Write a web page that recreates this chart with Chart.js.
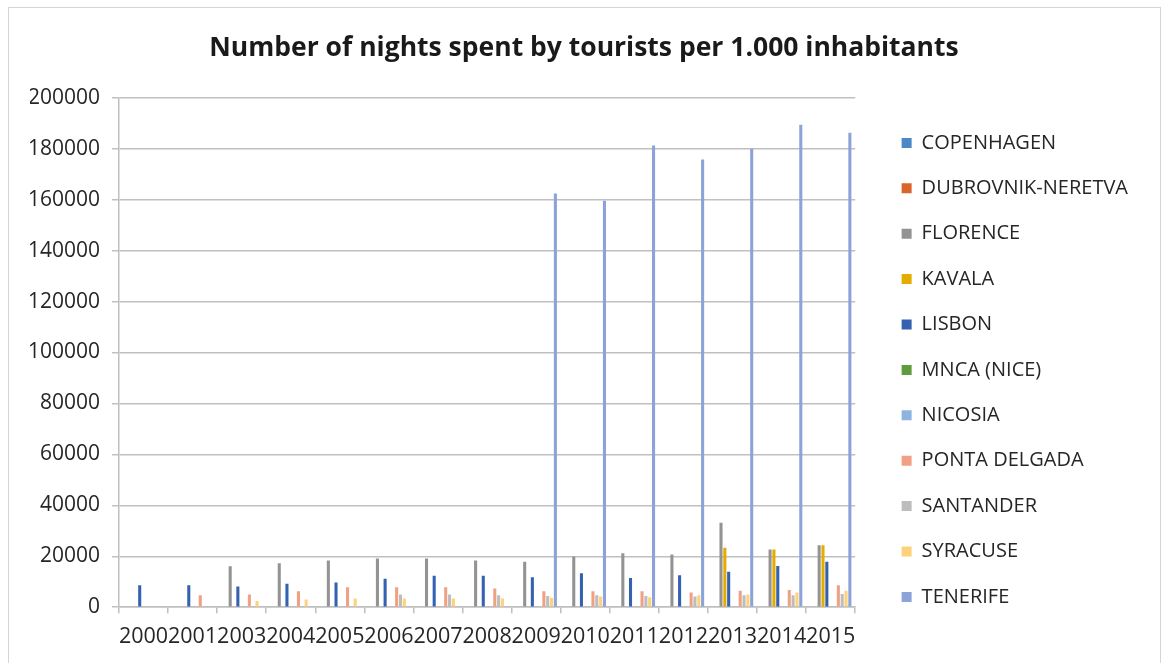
<!DOCTYPE html>
<html>
<head>
<meta charset="utf-8">
<script src="https://cdn.jsdelivr.net/npm/chart.js@4"></script>
<style>
  html, body { margin: 0; padding: 0; background: #fff; }
  #wrap { position: relative; width: 1163px; height: 663px; overflow: hidden; }
  #frame { position: absolute; left: 8px; top: 7px; width: 1151px; height: 670px; border: 1px solid #d4d4d4; }
  #grafico { position: absolute; left: 0; top: 0; }
</style>
</head>
<body>
<div id="wrap">
  <div id="frame"></div>
  <canvas id="grafico" width="1163" height="663"></canvas>
</div>
<script>
const anos = ['2000', '2001', '2003', '2004', '2005', '2006', '2007', '2008', '2009', '2010', '2011', '2012', '2013', '2014', '2015']

const cidades = ['COPENHAGEN', 'DUBROVNIK-NERETVA', 'FLORENCE', 'KAVALA', 'LISBON', 'MNCA (NICE)', 'NICOSIA', 'PONTA DELGADA', 'SANTANDER', 'SYRACUSE', 'TENERIFE']
const cores = ['#4a88c6', '#d9652a', '#939393', '#e5ac00', '#3461b0', '#5f9c3d', '#8db4e0', '#f0a184', '#bdbdbd', '#fdd27a', '#8ca3d9']

const copenhagen = [null, null, null, null, null, null, null, null, null, null, null, null, null, null, null]
const dubrovnik = [null, null, null, null, null, null, null, null, null, null, null, null, null, null, null]
const florence = [null, null, 16100, 17300, 18300, 19100, 19100, 18300, 17800, 19900, 21200, 20700, 33200, 22700, 24300]
const kavala = [null, null, null, null, null, null, null, null, null, null, null, null, 23300, 22700, 24300]
const lisbon = [8600, 8600, 8100, 9200, 9700, 11200, 12300, 12300, 11800, 13300, 11500, 12500, 13900, 16200, 17800]
const mnca = [null, null, null, null, null, null, null, null, null, null, null, null, null, null, null]
const nicosia = [null, null, null, null, null, null, null, null, null, null, null, null, null, null, null]
const pontaDelgada = [null, 4700, 5000, 6300, 7800, 7800, 7800, 7300, 6300, 6300, 6300, 5800, 6500, 6800, 8600]
const santander = [null, null, null, null, null, 5000, 5000, 4700, 4400, 4700, 4400, 4200, 4700, 4700, 5200]
const syracuse = [null, null, 2400, 3000, 3400, 3400, 3400, 3400, 3700, 4200, 3900, 4700, 5000, 5800, 6500]
const tenerife = [null, null, null, null, null, null, null, null, 162400, 159600, 181300, 175800, 180000, 189400, 186300]

const series = [copenhagen, dubrovnik, florence, kavala, lisbon, mnca, nicosia, pontaDelgada, santander, syracuse, tenerife]

const fonte = "'Open Sans', 'Noto Sans', sans-serif"

const grafico = document.getElementById('grafico')

const datasets = series.map((valores, i) => ({
  label: cidades[i],
  data: valores,
  backgroundColor: cores[i],
  borderWidth: 0,
  categoryPercentage: 0.86,
  barPercentage: 0.8
}))

let chart = new Chart(grafico, {
  type: 'bar',
  data: { labels: anos, datasets: datasets },
  options: {
    responsive: false,
    animation: false,
    layout: { padding: { left: 30, right: 25, top: 0, bottom: 2 } },
    plugins: {
      title: {
        display: true,
        text: 'Number of nights spent by tourists per 1.000 inhabitants',
        color: '#1a1a1a',
        font: { family: fonte, size: 26.5, weight: 'bold' },
        padding: { top: 33, bottom: 33 }
      },
      legend: {
        position: 'right',
        align: 'start',
        fullSize: true,
        maxWidth: 320,
        title: { display: true, text: '', font: { size: 10, lineHeight: 1 }, padding: { top: 97.5, bottom: 0 } },
        labels: {
          boxWidth: 10,
          boxHeight: 10,
          padding: 25.4,
          color: '#262626',
          font: { family: fonte, size: 20 }
        }
      },
      tooltip: { enabled: false }
    },
    scales: {
      x: {
        grid: { drawOnChartArea: false, drawTicks: true, tickLength: 6, offset: true, color: '#bfbfbf', lineWidth: 1.5 },
        border: { color: '#bfbfbf', width: 1.5 },
        ticks: { autoSkip: false, maxRotation: 0, minRotation: 0, padding: 11, color: '#262626', font: { family: fonte, size: 21.5 } }
      },
      y: {
        min: 0,
        max: 200000,
        afterFit: s => { s.width = 89 },
        ticks: { stepSize: 20000, padding: 12, color: '#262626', font: { family: fonte, size: 21 }, callback: v => String(v) },
        grid: { color: '#c0c0c0', lineWidth: 1.5, tickLength: 7 },
        border: { color: '#bfbfbf', width: 1.5 }
      },
      espaco: {
        type: 'linear',
        position: 'right',
        display: true,
        grid: { display: false, drawTicks: false },
        border: { display: false },
        ticks: { display: false },
        afterFit: s => { s.width = 21 }
      }
    }
  }
})
</script>
</body>
</html>
